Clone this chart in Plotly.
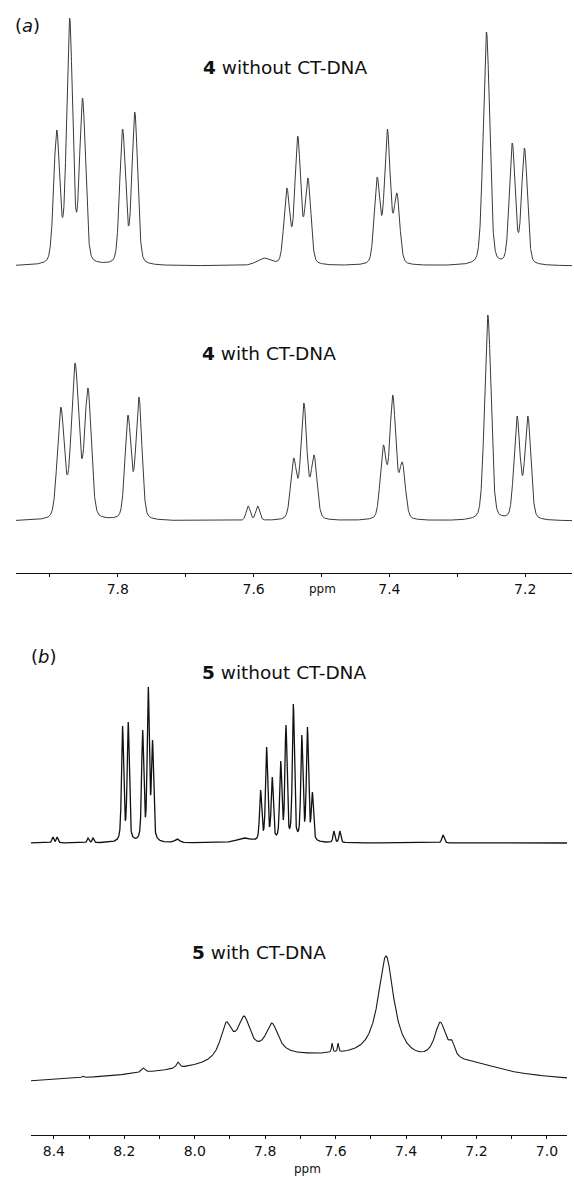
import numpy as np
import plotly.graph_objects as go

# ------------------------------------------------------------------
# Data read from the picture: peak positions (ppm), observed peak
# heights above the local baseline (arbitrary units) and half widths.
# ------------------------------------------------------------------
# Panel (a) - compound 4 without CT-DNA
a_top_ppm    = [7.890, 7.871, 7.852, 7.793, 7.775, 7.585, 7.551, 7.535, 7.520,
                7.418, 7.403, 7.389, 7.257, 7.219, 7.201]
a_top_height = [136, 248, 168, 137, 154, 8, 78, 130, 88,
                89, 137, 73, 234, 123, 118]
a_top_hwhm   = [0.0052, 0.0052, 0.0052, 0.0050, 0.0050, 0.012, 0.0050, 0.0050, 0.0050,
                0.0050, 0.0050, 0.0050, 0.0056, 0.0050, 0.0050]

# Panel (a) - compound 4 with CT-DNA
a_bot_ppm    = [7.884, 7.863, 7.844, 7.785, 7.769, 7.608, 7.594, 7.541, 7.526, 7.511,
                7.409, 7.395, 7.381, 7.255, 7.212, 7.196]
a_bot_height = [114, 158, 133, 106, 124, 15, 15, 63, 118, 66,
                76, 126, 59, 206, 105, 105]
a_bot_hwhm   = [0.0060, 0.0065, 0.0058, 0.0052, 0.0052, 0.0035, 0.0035, 0.0052, 0.0052, 0.0052,
                0.0052, 0.0052, 0.0052, 0.0056, 0.0052, 0.0052]

# Panel (b) - compound 5 without CT-DNA
b_top_ppm    = [8.403, 8.391, 8.303, 8.289, 8.205, 8.189, 8.148, 8.132, 8.120,
                8.050, 7.860, 7.813, 7.796, 7.780, 7.756, 7.741, 7.720, 7.696,
                7.680, 7.666, 7.605, 7.588, 7.295]
b_top_height = [6, 6, 5, 5, 117, 121, 113, 156, 103,
                4, 5, 53, 96, 66, 82, 118, 139, 108,
                116, 51, 12, 12, 8]
b_top_hwhm   = [0.003, 0.003, 0.003, 0.003, 0.0035, 0.0035, 0.0035, 0.0035, 0.0035,
                0.008, 0.025, 0.0035, 0.0035, 0.0035, 0.0035, 0.0035, 0.0035, 0.0035,
                0.0035, 0.0035, 0.003, 0.003, 0.004]

# Panel (b) - compound 5 with CT-DNA (broad underlying hump + broadened lines)
b_bot_ppm    = [7.650, 8.318, 8.147, 8.048, 7.911, 7.860, 7.781, 7.610, 7.593,
                7.457, 7.303, 7.270, 7.200]
b_bot_height = [37, 14, 22, 28, 68, 74, 67, 47, 47,
                134, 68, 50, 28]
b_bot_hwhm   = [0.50, 0.004, 0.006, 0.005, 0.020, 0.022, 0.022, 0.002, 0.002,
                0.027, 0.020, 0.010, 0.080]

# axis tick labels
tick_a = [7.8, 7.6, 7.4, 7.2]
tick_b = [8.4, 8.2, 8.0, 7.8, 7.6, 7.4, 7.2, 7.0]

# ------------------------------------------------------------------
W, H = 574, 1179


def yf(py):
    return 1 - py / H


def shape(x, c, g, eta):
    """pseudo-Voigt line: eta * Lorentzian + (1 - eta) * Gaussian, same HWHM."""
    u = ((x - c) / g) ** 2
    return eta / (1.0 + u) + (1.0 - eta) * np.exp(-np.log(2.0) * u)


def spectrum(x, centres, heights, widths, eta):
    c = np.asarray(centres, float)
    h = np.asarray(heights, float)
    g = np.asarray(widths, float)
    M = shape(c[:, None], c[None, :], g[None, :], eta)
    amps = np.linalg.solve(M, h)
    return (amps[None, :] * shape(x[:, None], c[None, :], g[None, :], eta)).sum(axis=1)


range_a = [7.950, 7.131]
range_b = [8.465, 6.943]
xa = np.linspace(range_a[0], range_a[1], 4000)
xb = np.linspace(range_b[0], range_b[1], 6000)

fig = go.Figure()
fig.add_trace(go.Scatter(x=xa, y=spectrum(xa, a_top_ppm, a_top_height, a_top_hwhm, 0.25),
                         mode="lines", line=dict(color="#3a3a3a", width=1),
                         xaxis="x", yaxis="y", hoverinfo="skip"))
fig.add_trace(go.Scatter(x=xa, y=spectrum(xa, a_bot_ppm, a_bot_height, a_bot_hwhm, 0.25),
                         mode="lines", line=dict(color="#3a3a3a", width=1),
                         xaxis="x", yaxis="y2", hoverinfo="skip"))
fig.add_trace(go.Scatter(x=xb, y=spectrum(xb, b_top_ppm, b_top_height, b_top_hwhm, 0.5),
                         mode="lines", line=dict(color="#111111", width=1.3),
                         xaxis="x2", yaxis="y3", hoverinfo="skip"))
fig.add_trace(go.Scatter(x=xb, y=spectrum(xb, b_bot_ppm, b_bot_height, b_bot_hwhm, 1.0),
                         mode="lines", line=dict(color="#1a1a1a", width=1.1),
                         xaxis="x2", yaxis="y4", hoverinfo="skip"))

tickfont = dict(family="DejaVu Sans", size=14, color="#111")


def xaxis_style(dom, rng, pos, ticks):
    return dict(domain=dom, range=rng, anchor="free", position=pos,
                showline=True, linecolor="#111", linewidth=1.2,
                ticks="outside", ticklen=3, tickwidth=1, tickcolor="#111",
                tickvals=ticks, ticktext=[f"{t:.1f}" for t in ticks],
                minor=dict(dtick=0.1, tick0=7.0, ticks="outside", ticklen=3,
                           tickwidth=1, tickcolor="#111"),
                showgrid=False, zeroline=False, tickfont=tickfont, fixedrange=True)


def yaxis_style(top_px, bot_px, base_px, anchor):
    return dict(domain=[yf(bot_px), yf(top_px)],
                range=[base_px - bot_px, base_px - top_px],
                visible=False, anchor=anchor, fixedrange=True)


fig.update_layout(
    width=W, height=H,
    margin=dict(l=0, r=0, t=0, b=0),
    paper_bgcolor="white", plot_bgcolor="white",
    showlegend=False,
    hovermode=False,
    xaxis=xaxis_style([16 / W, 572 / W], range_a, yf(573), tick_a),
    xaxis2=xaxis_style([31 / W, 567 / W], range_b, yf(1135), tick_b),
    yaxis=yaxis_style(5, 282, 266, "x"),
    yaxis2=yaxis_style(300, 545, 521, "x"),
    yaxis3=yaxis_style(672, 858, 843, "x2"),
    yaxis4=yaxis_style(935, 1100, 1090, "x2"),
)

labfont = dict(family="DejaVu Sans", size=18.5, color="#111")
annots = [
    ("(<i>a</i>)", 13, 25, "left", dict(family="DejaVu Sans", size=18, color="#111")),
    ("<b>4</b> without CT-DNA", 201, 67, "left", labfont),
    ("<b>4</b> with CT-DNA", 200, 353, "left", labfont),
    ("(<i>b</i>)", 29, 656, "left", dict(family="DejaVu Sans", size=18, color="#111")),
    ("<b>5</b> without CT-DNA", 200, 672, "left", labfont),
    ("<b>5</b> with CT-DNA", 190, 952, "left", labfont),
    ("ppm", 322, 589, "center", dict(family="DejaVu Sans", size=12, color="#111")),
    ("ppm", 307, 1169, "center", dict(family="DejaVu Sans", size=12, color="#111")),
]
for text, px, py, xa_, font in annots:
    fig.add_annotation(text=text, x=px / W, y=yf(py), xref="paper", yref="paper",
                       xanchor=xa_, yanchor="middle", showarrow=False, font=font)

# remove the browser's default 8px body margin so the figure sits at the page origin
fig.write_html("out.html", config={"displayModeBar": False, "staticPlot": True},
               post_script="document.body.style.margin='0px';")
